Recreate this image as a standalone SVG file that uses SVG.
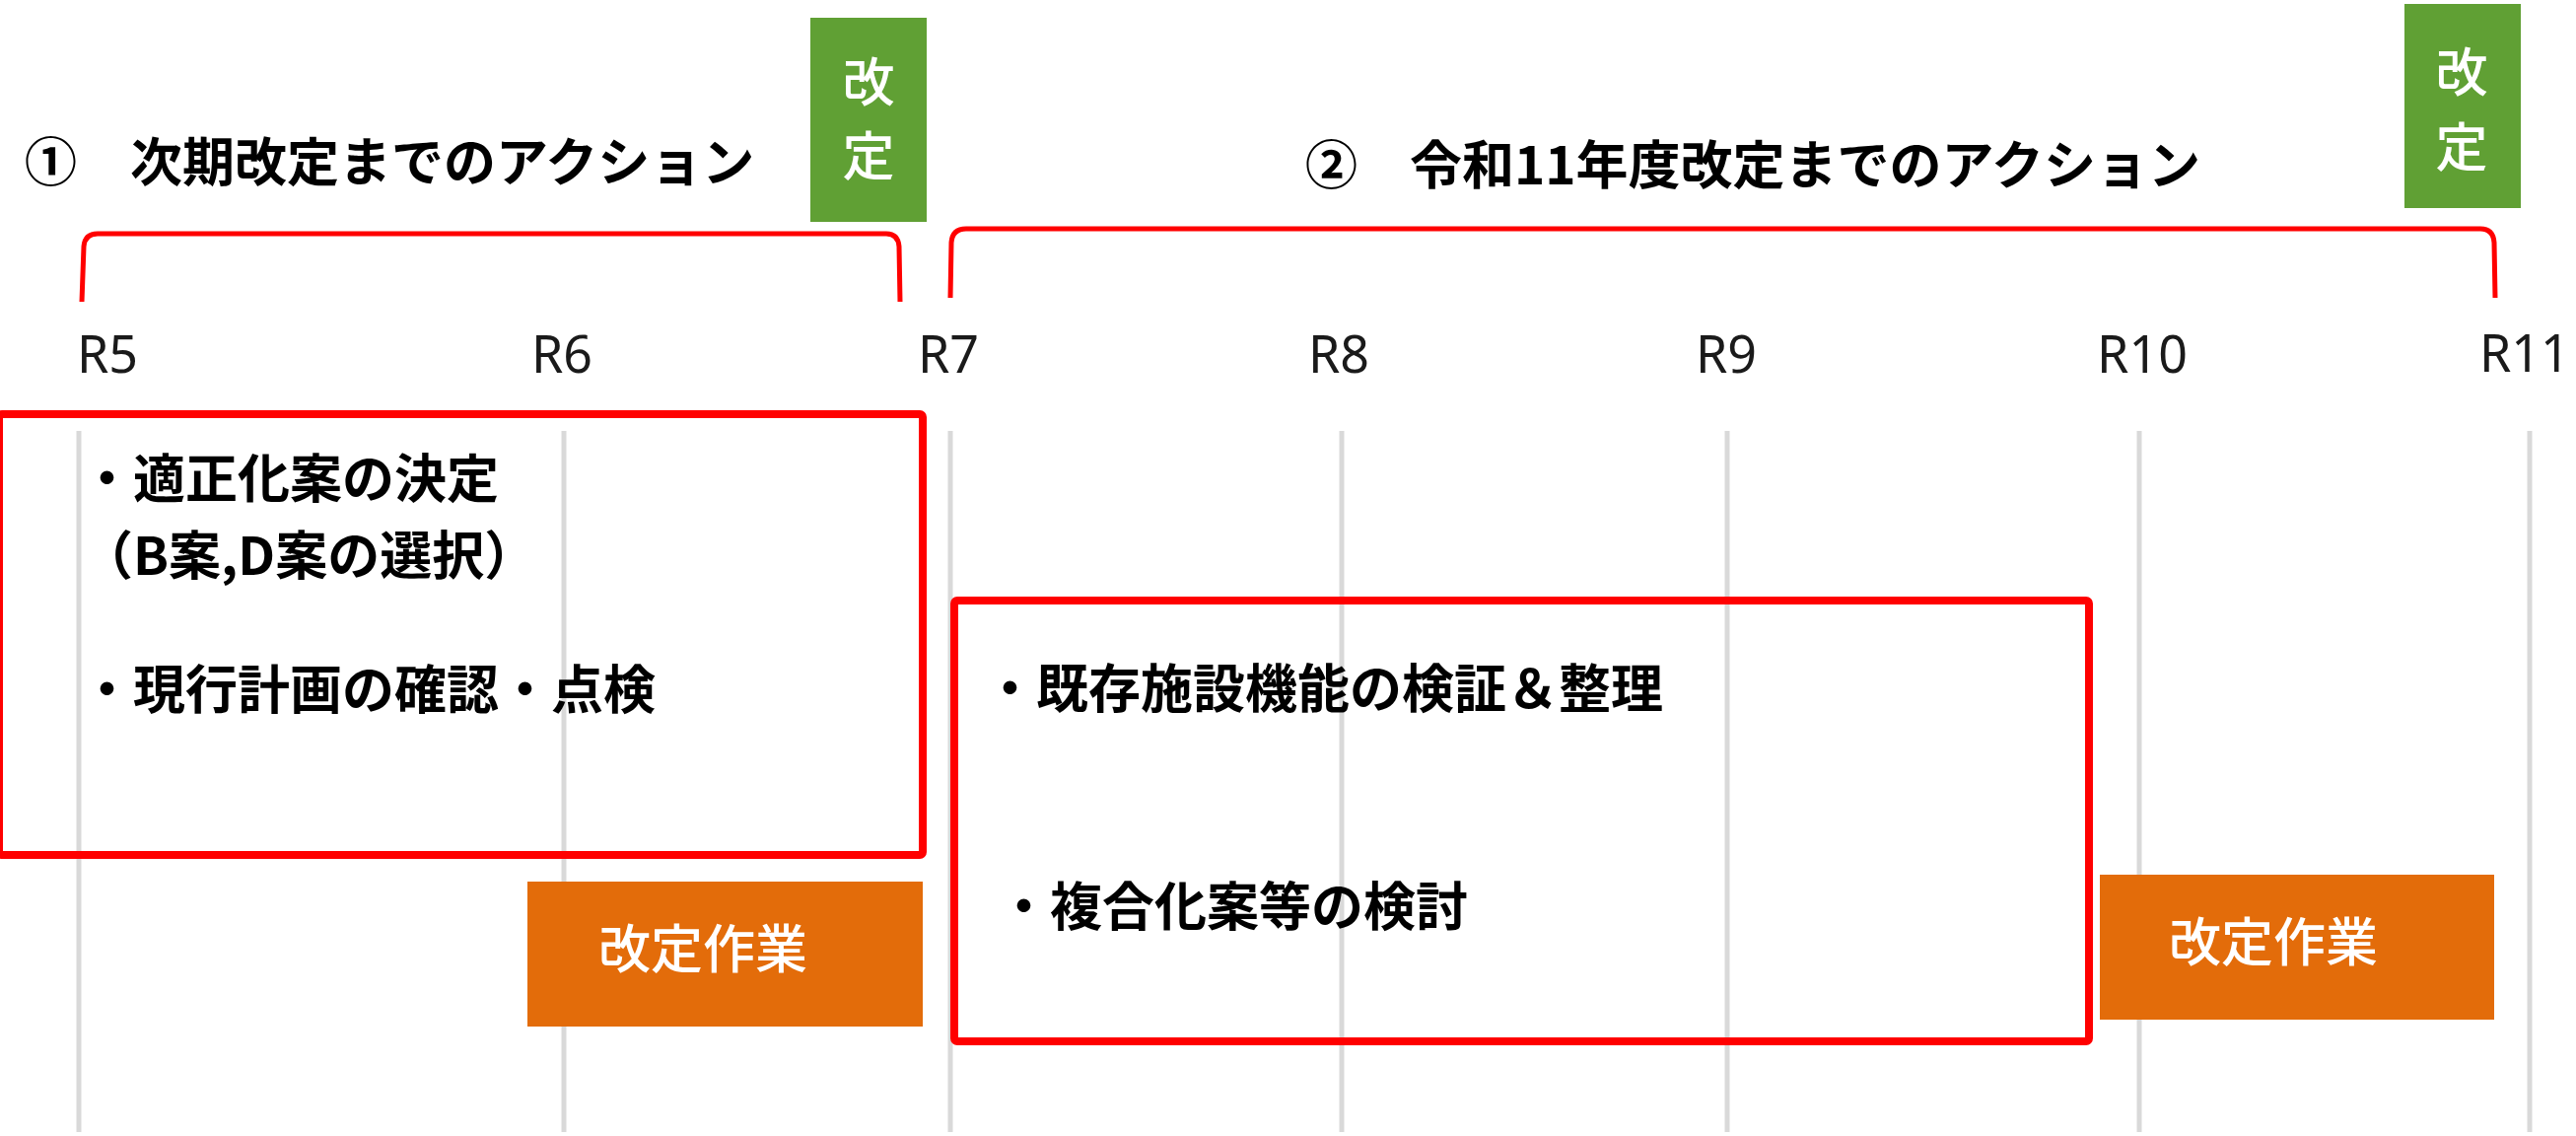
<svg xmlns="http://www.w3.org/2000/svg" width="2613" height="1152" viewBox="0 0 2613 1152">
<style>
.cjk{font-family:"Noto Sans CJK JP","Noto Sans",sans-serif}
.title{font-size:53px;font-weight:bold;fill:#000}
.body{font-size:53px;font-weight:bold;fill:#000}
.year{font-family:"Noto Sans","Open Sans",sans-serif;font-size:52px;fill:#1a1a1a}
.wtxt{font-size:53px;font-weight:500;fill:#fff}
.grid{stroke:#d9d9d9;stroke-width:5}
.redbox{fill:none;stroke:#ff0000;stroke-width:8}
.bracket{fill:none;stroke:#ff0000;stroke-width:5;stroke-linejoin:round}
.green{fill:#60a034}
.orange{fill:#e36c0a}
</style>
<rect width="2613" height="1152" fill="#fff"/>
<g id="gridlines">
<line class="grid" x1="80" y1="437" x2="80" y2="1148"/>
<line class="grid" x1="572" y1="437" x2="572" y2="1148"/>
<line class="grid" x1="964" y1="437" x2="964" y2="1148"/>
<line class="grid" x1="1361" y1="437" x2="1361" y2="1148"/>
<line class="grid" x1="1752" y1="437" x2="1752" y2="1148"/>
<line class="grid" x1="2170" y1="437" x2="2170" y2="1148"/>
<line class="grid" x1="2566" y1="437" x2="2566" y2="1148"/>
</g>
<g id="years" class="year">
<text x="78" y="378">R5</text>
<text x="570" y="378" text-anchor="middle">R6</text>
<text x="962" y="378" text-anchor="middle">R7</text>
<text x="1358" y="378" text-anchor="middle">R8</text>
<text x="1751" y="378" text-anchor="middle">R9</text>
<text x="2173" y="378" text-anchor="middle">R10</text>
<text x="2515" y="377">R11</text>
</g>
<g id="connectors">
<path class="bracket" d="M83,306 L85,250 Q86,237 99,237 L899,237 Q911,237 912,250 L913,306"/>
<path class="bracket" d="M964,302 L965,246 Q966,232 980,232 L2516,232 Q2529,232 2530,246 L2531,302"/>
</g>
<g id="title1">
<text class="cjk title" x="25" y="184">①　<tspan x="132">次期改定までのアクション</tspan></text>
</g>
<g id="title2">
<text class="cjk title" x="1324" y="187">②　令和11年度改定までのアクション</text>
</g>
<g id="kaitei1">
<rect class="green" x="822" y="18" width="118" height="207"/>
<text class="cjk wtxt" x="881" y="103" text-anchor="middle" font-size="50">改</text>
<text class="cjk wtxt" x="881" y="178" text-anchor="middle" font-size="50">定</text>
</g>
<g id="kaitei2">
<rect class="green" x="2439" y="4" width="118" height="207"/>
<text class="cjk wtxt" x="2497" y="93" text-anchor="middle" font-size="50">改</text>
<text class="cjk wtxt" x="2497" y="169" text-anchor="middle" font-size="50">定</text>
</g>
<g id="phase1">
<rect class="redbox" x="-1" y="420" width="937" height="447" rx="3"/>
<text class="cjk body" x="82" y="505">・適正化案の決定</text>
<text class="cjk body" x="82" y="583">（B案,D案の選択）</text>
<text class="cjk body" x="82" y="719">・現行計画の確認・点検</text>
</g>
<g id="phase2">
<rect class="redbox" x="968" y="609" width="1151" height="447" rx="3"/>
<text class="cjk body" x="998" y="718">・既存施設機能の検証＆整理</text>
<text class="cjk body" x="1012" y="939">・複合化案等の検討</text>
</g>
<g id="work1">
<rect class="orange" x="535" y="894" width="401" height="147"/>
<text class="cjk wtxt" x="607" y="982">改定作業</text>
</g>
<g id="work2">
<rect class="orange" x="2130" y="887" width="400" height="147"/>
<text class="cjk wtxt" x="2200" y="975">改定作業</text>
</g>
</svg>
